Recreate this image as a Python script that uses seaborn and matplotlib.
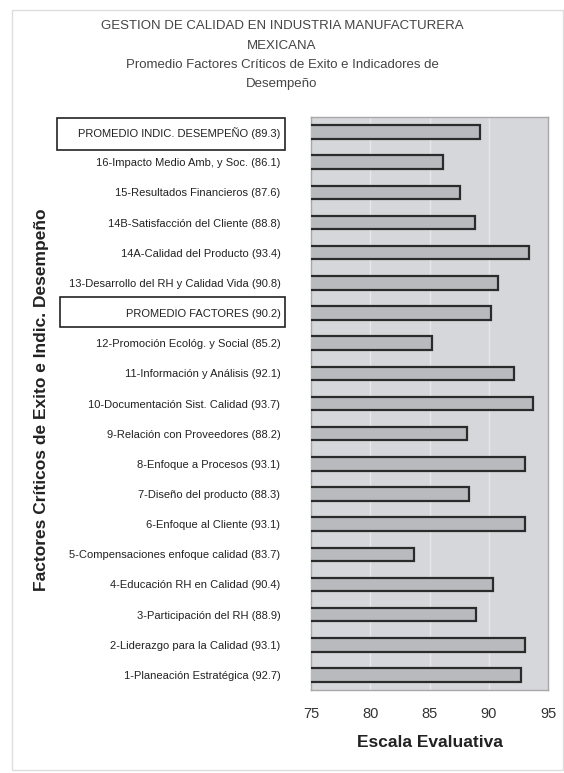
import matplotlib
matplotlib.use("Agg")
import matplotlib.pyplot as plt
import seaborn as sns
import pandas as pd
from matplotlib.patches import Rectangle

categories = [
    "PROMEDIO INDIC. DESEMPEÑO (89.3)",
    "16-Impacto Medio Amb, y Soc. (86.1)",
    "15-Resultados Financieros (87.6)",
    "14B-Satisfacción del Cliente (88.8)",
    "14A-Calidad del Producto (93.4)",
    "13-Desarrollo del RH y Calidad Vida (90.8)",
    "PROMEDIO FACTORES (90.2)",
    "12-Promoción Ecológ. y Social (85.2)",
    "11-Información y Análisis (92.1)",
    "10-Documentación Sist. Calidad (93.7)",
    "9-Relación con Proveedores (88.2)",
    "8-Enfoque a Procesos (93.1)",
    "7-Diseño del producto (88.3)",
    "6-Enfoque al Cliente (93.1)",
    "5-Compensaciones enfoque calidad (83.7)",
    "4-Educación RH en Calidad (90.4)",
    "3-Participación del RH (88.9)",
    "2-Liderazgo para la Calidad (93.1)",
    "1-Planeación Estratégica (92.7)",
]
values = [89.3, 86.1, 87.6, 88.8, 93.4, 90.8, 90.2, 85.2, 92.1, 93.7,
          88.2, 93.1, 88.3, 93.1, 83.7, 90.4, 88.9, 93.1, 92.7]
x_ticks = [75, 80, 85, 90, 95]

title_lines = ["GESTION DE CALIDAD EN INDUSTRIA MANUFACTURERA",
               "MEXICANA",
               "Promedio Factores Críticos de Exito e Indicadores de",
               "Desempeño"]

sns.set_style("white")
plt.rcParams['font.family'] = ['Liberation Sans', 'DejaVu Sans']

df = pd.DataFrame({"cat": categories, "val": values})

fig = plt.figure(figsize=(5.64, 7.73), dpi=100)
W, H = 564, 773
ax = fig.add_axes([311 / W, 1 - 690 / H, (548 - 311) / W, (690 - 117) / H])
ax.set_facecolor("#d5d7da")

sns.barplot(data=df, x="val", y="cat", orient="h", color="#b9babe",
            edgecolor="#2b2b2b", linewidth=1.6, width=0.45, saturation=1,
            ax=ax, zorder=3)
ax.set_xlim(75, 95)
ax.set_xticks(x_ticks)
ax.set_xticklabels([str(t) for t in x_ticks], fontsize=10.5, color="#333333")
ax.tick_params(axis="x", length=0, pad=12)
ax.tick_params(axis="y", length=0, pad=22)
ax.set_yticks(range(len(categories)))
ax.set_yticklabels(categories, fontsize=8, color="#222222")
for gx in [80, 85, 90]:
    ax.axvline(gx, color="#e6e7ea", lw=1.0, zorder=1)
for s in ax.spines.values():
    s.set_color("#a8a8a8")
    s.set_linewidth(1.0)
ax.set_ylabel("")
ax.set_xlabel("Escala Evaluativa", fontsize=12.5, fontweight="bold",
              color="#222222", labelpad=10)

fig.text(42 / W, 1 - 400 / H, "Factores Críticos de Exito e Indic. Desempeño",
         rotation=90, ha="center", va="center", fontsize=12.5,
         fontweight="bold", color="#222222")

ys = [26, 46, 65, 84]
for t, yy in zip(title_lines, ys):
    fig.text(282 / W, 1 - yy / H, t, ha="center", va="center", fontsize=9.5,
             color="#444444")

# boxes around summary labels
fig.patches.append(Rectangle((57 / W, 1 - 150 / H), (285 - 57) / W, 32 / H,
                             transform=fig.transFigure, fill=False,
                             edgecolor="#222222", lw=1.2))
fig.patches.append(Rectangle((60 / W, 1 - 327 / H), (285 - 60) / W, 30 / H,
                             transform=fig.transFigure, fill=False,
                             edgecolor="#222222", lw=1.2))
# outer frame
fig.patches.append(Rectangle((12 / W, 1 - 770 / H), (563 - 12) / W, 760 / H,
                             transform=fig.transFigure, fill=False,
                             edgecolor="#dddddd", lw=1.0))

fig.savefig("out.png", dpi=100)
